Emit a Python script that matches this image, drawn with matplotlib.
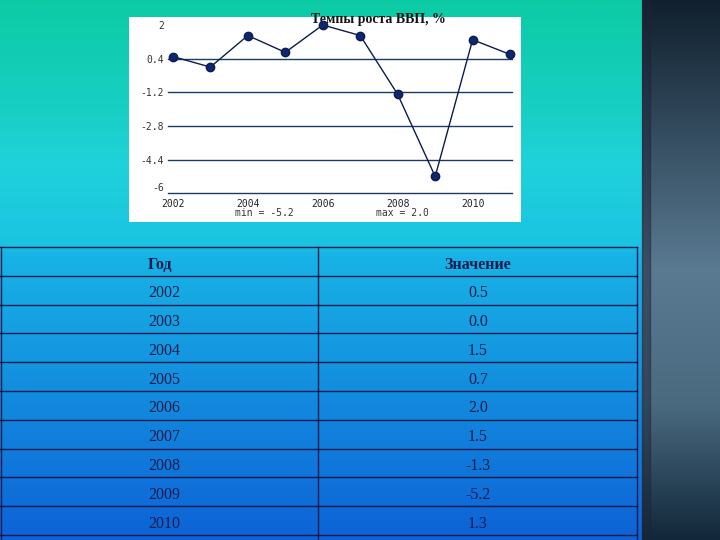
import numpy as np
import matplotlib.pyplot as plt
from matplotlib.colors import LinearSegmentedColormap
from matplotlib.patches import Rectangle

# Данные графика
years = [2002, 2003, 2004, 2005, 2006, 2007, 2008, 2009, 2010, 2011]
growth = [0.5, 0.0, 1.5, 0.7, 2.0, 1.5, -1.3, -5.2, 1.3, 0.6]
y_ticks = [2, 0.4, -1.2, -2.8, -4.4, -6]
y_tick_labels = ['2', '0.4', '-1.2', '-2.8', '-4.4', '-6']
x_ticks = [2002, 2004, 2006, 2008, 2010]

# Данные таблицы
table_header = ['Год', 'Значение']
table_years = ['2002', '2003', '2004', '2005', '2006', '2007', '2008', '2009', '2010']
table_values = ['0.5', '0.0', '1.5', '0.7', '2.0', '1.5', '-1.3', '-5.2', '1.3']

W, H = 720, 540
NAVY = '#0b1c4d'

fig = plt.figure(figsize=(7.2, 5.4), dpi=100)
bg = fig.add_axes([0, 0, 1, 1])
bg.set_xlim(0, W)
bg.set_ylim(H, 0)
bg.axis('off')

# фон слайда
slide_cmap = LinearSegmentedColormap.from_list('slide', [
    (0.0, '#0ccba4'), (0.2, '#18cfc4'), (0.3, '#20d2da'),
    (0.45, '#1ac4e2'), (0.47, '#18b4e6'), (1.0, '#0e62d6')])
grad = np.linspace(0, 1, 256).reshape(-1, 1)
bg.imshow(grad, cmap=slide_cmap, extent=[0, 642, H, 0], aspect='auto', zorder=0)

# правая тёмная панель
panel_cmap = LinearSegmentedColormap.from_list('panel', [
    (0.0, '#10202e'), (0.5, '#5a7a92'), (0.75, '#4a6a80'), (1.0, '#12283a')])
bg.imshow(grad, cmap=panel_cmap, extent=[642, W, H, 0], aspect='auto', zorder=0)
bg.add_patch(Rectangle((642, 0), 8, H, color='#1c2438', alpha=0.5, zorder=1))

# белая подложка графика
bg.add_patch(Rectangle((129, 17), 392, 205, facecolor='white', edgecolor='none', zorder=1))

# таблица
row_h = 28.8
top = 247
n_rows = len(table_years) + 1
bg.plot([0, 637], [top, top], color=NAVY, lw=1, zorder=3)
for i in range(n_rows + 1):
    y = top + (i + 1) * row_h
    bg.plot([0, 637], [y, y], color=NAVY, lw=1, zorder=3)
for x in [0.5, 318, 637]:
    bg.plot([x, x], [top, H], color=NAVY, lw=1, zorder=3)

bg.text(160, top + row_h / 2 + 4, table_header[0], ha='center', va='center',
        fontsize=11.5, fontweight='bold', family='Liberation Serif', color=NAVY, zorder=4)
bg.text(478, top + row_h / 2 + 4, table_header[1], ha='center', va='center',
        fontsize=11.5, fontweight='bold', family='Liberation Serif', color=NAVY, zorder=4)
for i, (yr, val) in enumerate(zip(table_years, table_values)):
    yc = top + (i + 1.5) * row_h + 3
    bg.text(164, yc, yr, ha='center', va='center', fontsize=11.5,
            family='Liberation Serif', color=NAVY, zorder=4)
    bg.text(478, yc, val, ha='center', va='center', fontsize=11.5,
            family='Liberation Serif', color=NAVY, zorder=4)

# заголовок и подписи min/max
bg.text(378, 19, 'Темпы роста ВВП, %', ha='center', va='center', fontsize=10,
        fontweight='bold', family='Liberation Serif', color='#111111', zorder=4)
bg.text(264, 213, f'min = {min(growth):.1f}', ha='center', va='center',
        fontsize=7, family='DejaVu Sans Mono', color='#333333', zorder=4)
bg.text(402, 213, f'max = {max(growth):.1f}', ha='center', va='center',
        fontsize=7, family='DejaVu Sans Mono', color='#333333', zorder=4)

# сам график
x0, x1 = 168, 512
y_top, y_bot = 25, 193.3
ax = fig.add_axes([x0 / W, 1 - y_bot / H, (x1 - x0) / W, (y_bot - y_top) / H])
ax.set_facecolor('none')
ax.set_xlim(2001.87, 2011.05)
ax.set_ylim(-6, 2)
for yv in y_ticks[1:]:
    ax.axhline(yv, color='#1a3a6e', lw=1, zorder=1, clip_on=False)
ax.plot(years, growth, color=NAVY, lw=1, marker='o', markersize=6,
        markerfacecolor='#0d2870', markeredgecolor=NAVY, zorder=3, clip_on=False)
for s in ax.spines.values():
    s.set_visible(False)
ax.set_yticks(y_ticks)
ax.set_yticklabels(y_tick_labels, fontsize=7, family='DejaVu Sans Mono', color='#333333')
ax.set_xticks(x_ticks)
ax.set_xticklabels([str(x) for x in x_ticks], fontsize=7, family='DejaVu Sans Mono', color='#222222')
ax.tick_params(axis='y', length=0, pad=3)
ax.tick_params(axis='x', length=0, pad=4)
# метка -6 чуть выше, как в оригинале
ax.get_yticklabels()[-1].set_va('bottom')

fig.savefig('out.png', dpi=100)
